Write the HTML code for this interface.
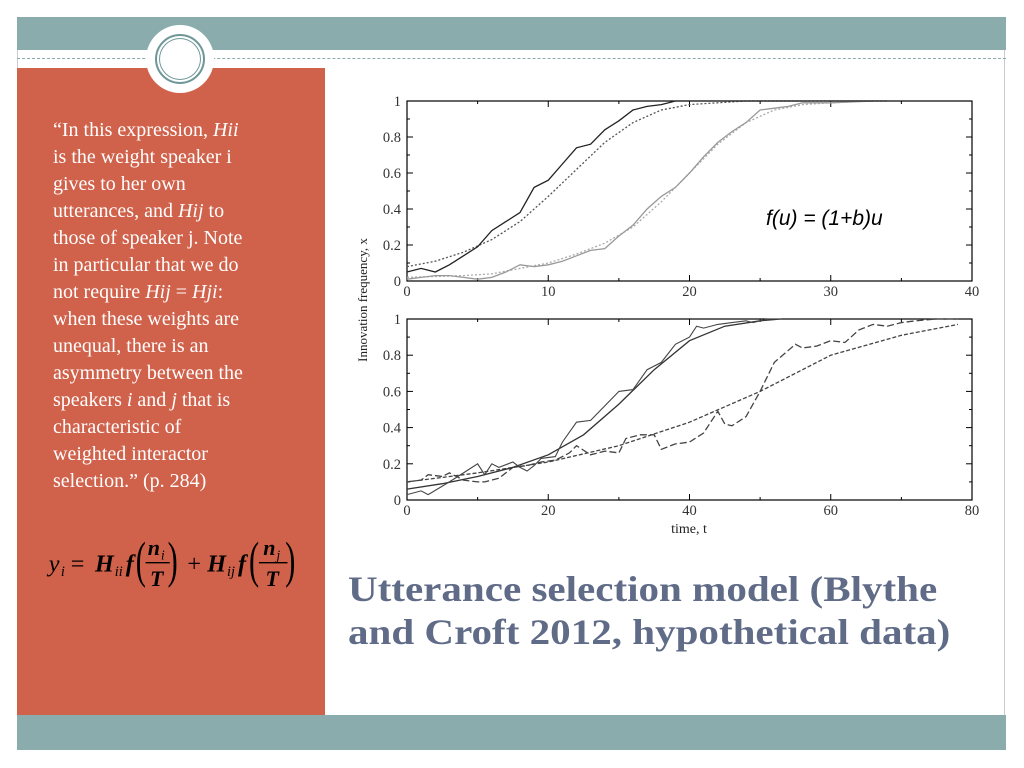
<!DOCTYPE html>
<html><head><meta charset="utf-8"><style>
body{margin:0;width:1024px;height:768px;background:#fff;position:relative;overflow:hidden;font-family:"Liberation Serif",serif}
.abs{position:absolute}
#quote{left:53px;top:117px;width:270px;font-size:20px;line-height:27px;color:#fff;white-space:nowrap}
#title{left:348px;top:568px;font-size:36px;font-weight:bold;color:#5f6b87;line-height:43px;white-space:nowrap;transform:scaleX(1.14);transform-origin:0 0}
</style></head><body>
<div class="abs" style="left:17px;top:17px;width:988px;height:733px;border:1px solid #ccc;box-sizing:border-box"></div>
<div class="abs" style="left:17px;top:17px;width:989px;height:33px;background:#8aacad"></div>
<div class="abs" style="left:17px;top:58px;width:989px;border-top:1px dashed #8aacad"></div>
<div class="abs" style="left:17px;top:68px;width:308px;height:647px;background:#d0614a"></div>
<div class="abs" style="left:17px;top:715px;width:989px;height:35px;background:#8aacad"></div>
<div class="abs" style="left:146px;top:25px;width:68px;height:68px;border-radius:50%;background:#fff"></div>
<div class="abs" style="left:155px;top:34px;width:46px;height:46px;border-radius:50%;border:2px solid #6f9798;box-shadow:inset 0 0 0 2px #fff,inset 0 0 0 3px #6f9798"></div>
<div id="quote" class="abs">“In this expression, <i>Hii</i><br>is the weight speaker i<br>gives to her own<br>utterances, and <i>Hij</i> to<br>those of speaker j. Note<br>in particular that we do<br>not require <i>Hij</i> = <i>Hji</i>:<br>when these weights are<br>unequal, there is an<br>asymmetry between the<br>speakers <i>i</i> and <i>j</i> that is<br>characteristic of<br>weighted interactor<br>selection.” (p. 284)</div>
<svg class="abs" style="left:40px;top:522px" width="285" height="75" font-family="Liberation Serif,serif" fill="#000">
<g transform="scale(1.1)">
<text x="8" y="45" font-size="22" font-style="italic">y</text><text x="19" y="49" font-size="13" font-style="italic">i</text>
<text x="28" y="45" font-size="22">=</text>
<text x="50" y="45" font-size="22" font-style="italic" font-weight="bold">H</text><text x="68" y="49" font-size="13" font-style="italic">ii</text>
<text x="78" y="45" font-size="22" font-style="italic" font-weight="bold">f</text>
<text x="87" y="50" font-size="46" transform="scale(0.6,1)" style="transform-origin:87px 0">(</text>
<text x="98" y="30" font-size="20" font-style="italic" font-weight="bold">n</text><text x="110" y="34" font-size="12" font-style="italic">i</text>
<line x1="96" y1="37" x2="118" y2="37" stroke="#000" stroke-width="1.2"/>
<text x="100" y="58" font-size="20" font-style="italic" font-weight="bold">T</text>
<text x="116" y="50" font-size="46" transform="scale(0.6,1)" style="transform-origin:116px 0">)</text>
<text x="134" y="45" font-size="22">+</text>
<text x="152" y="45" font-size="22" font-style="italic" font-weight="bold">H</text><text x="170" y="49" font-size="13" font-style="italic">ij</text>
<text x="180" y="45" font-size="22" font-style="italic" font-weight="bold">f</text>
<text x="190" y="50" font-size="46" transform="scale(0.6,1)" style="transform-origin:190px 0">(</text>
<text x="203" y="30" font-size="20" font-style="italic" font-weight="bold">n</text><text x="215" y="34" font-size="12" font-style="italic">j</text>
<line x1="199" y1="37" x2="225" y2="37" stroke="#000" stroke-width="1.2"/>
<text x="205" y="58" font-size="20" font-style="italic" font-weight="bold">T</text>
<text x="223" y="50" font-size="46" transform="scale(0.6,1)" style="transform-origin:223px 0">)</text>
</g>
</svg>
<div id="title" class="abs">Utterance selection model (Blythe<br>and Croft 2012, hypothetical data)</div>
<svg id="chart" class="abs" style="left:0;top:0" width="1024" height="768" font-family="Liberation Serif,serif"></svg>
<script>
// top panel data
const topBlackT=[0,1,2,3,4,5,6,7,8,9,10,11,12,13,14,15,16,17,18,19,20,25,30,34];
const topBlackX=[0.05,0.07,0.05,0.09,0.14,0.19,0.28,0.33,0.38,0.52,0.56,0.65,0.74,0.76,0.84,0.89,0.95,0.97,0.98,1,1,1,1,1];
const topBlackFitT=[0,2,4,6,8,10,12,14,16,18,20,22,24,34];
const topBlackFitX=[0.08,0.11,0.16,0.23,0.33,0.47,0.62,0.77,0.88,0.95,0.98,0.99,1,1];
const topGreyT=[0,1,2,3,4,5,6,7,8,9,10,11,12,13,14,15,16,17,18,19,20,21,22,23,24,25,26,27,28,30,33];
const topGreyX=[0.01,0.02,0.03,0.03,0.02,0.01,0.02,0.05,0.09,0.08,0.09,0.11,0.14,0.17,0.18,0.25,0.31,0.40,0.47,0.52,0.60,0.69,0.77,0.83,0.88,0.95,0.96,0.97,0.99,0.99,1];
const topGreyFitT=[0,4,6,8,10,12,14,16,18,20,22,24,26,28,30,33];
const topGreyFitX=[0.02,0.03,0.04,0.07,0.10,0.15,0.21,0.30,0.44,0.60,0.76,0.88,0.95,0.98,0.99,1];
const topXTicks=[0,10,20,30,40];
const yTicks=[0,0.2,0.4,0.6,0.8,1];
const yTickLabels=["0","0.2","0.4","0.6","0.8","1"];
// bottom panel data
const botSolidT=[0,2,3,6,8,10,11,12,13,15,16,17,18,19,21,22,24,26,28,30,32,34,36,38,40,41,42,44,46,48,49,51,53];
const botSolidX=[0.03,0.05,0.03,0.10,0.15,0.20,0.14,0.20,0.18,0.21,0.18,0.16,0.19,0.23,0.24,0.32,0.43,0.44,0.52,0.60,0.61,0.72,0.76,0.86,0.90,0.96,0.95,0.97,0.98,0.99,0.98,1,1];
const botSolidFitT=[0,5,10,15,20,25,30,35,40,45,50,53];
const botSolidFitX=[0.06,0.09,0.13,0.18,0.25,0.36,0.53,0.72,0.88,0.96,0.99,1];
const botDashT=[0,2,3,5,6,8,10,11,13,15,17,19,21,23,24,26,28,30,31,33,35,36,38,40,42,44,45,46,48,50,52,55,56,58,60,62,64,66,68,70,72,75,78];
const botDashX=[0.10,0.11,0.14,0.13,0.15,0.11,0.10,0.10,0.12,0.18,0.19,0.21,0.22,0.26,0.30,0.25,0.27,0.26,0.34,0.36,0.36,0.28,0.31,0.32,0.37,0.49,0.42,0.41,0.46,0.60,0.76,0.86,0.84,0.85,0.88,0.87,0.94,0.97,0.96,0.98,0.99,1,1];
const botDashFitT=[0,10,20,30,40,50,60,70,78];
const botDashFitX=[0.10,0.15,0.21,0.30,0.43,0.60,0.80,0.91,0.97];
const botXTicks=[0,20,40,60,80];

const svg=document.getElementById('chart');
const NS='http://www.w3.org/2000/svg';
function mk(tag,attrs,parent){const e=document.createElementNS(NS,tag);for(const k in attrs)e.setAttribute(k,attrs[k]);(parent||svg).appendChild(e);return e;}
function panel(name,top,bottom,xmax,xticks,series){
  const L=407,R=972;
  const sx=v=>L+(R-L)*v/xmax, sy=v=>bottom-(bottom-top)*v;
  const g=mk('g',{});
  
  
  const fr=mk('rect',{x:L,y:top,width:R-L,height:bottom-top,fill:'none',stroke:'#000','stroke-width':1.2},g);
  
  
  const minor=xmax/8;
  for(let v=0;v<=xmax+1e-9;v+=minor){const x=sx(v);const big=xticks.includes(v);const h=big?6:3;
    mk('line',{x1:x,y1:bottom,x2:x,y2:bottom-h,stroke:'#000'},g);mk('line',{x1:x,y1:top,x2:x,y2:top+h,stroke:'#000'},g);}
  xticks.forEach(v=>{const t=mk('text',{x:sx(v),y:bottom+15,'font-size':14.5,'text-anchor':'middle',fill:'#333'},g);t.textContent=v;
    
    });
  for(let v=0;v<=1.0001;v+=0.1){const y=sy(v);const big=Math.round(v*10)%2==0;const h=big?6:3;
    mk('line',{x1:L,y1:y,x2:L+h,y2:y,stroke:'#000'},g);mk('line',{x1:R,y1:y,x2:R-h,y2:y,stroke:'#000'},g);}
  yTicks.forEach((v,i)=>{const t=mk('text',{x:L-6,y:sy(v)+5,'font-size':14.5,'text-anchor':'end',fill:'#333'},g);t.textContent=yTickLabels[i];
    
    });
  series.forEach(s=>{const d=s.t.map((t,i)=>(i?'L':'M')+sx(t).toFixed(1)+','+sy(s.x[i]).toFixed(1)).join('');
    const p=mk('path',{d:d,fill:'none',stroke:s.c,'stroke-width':s.w||1.3,'stroke-dasharray':s.dash||'none'},g);
    
    });
}
panel('top-panel',101,281,40,topXTicks,[
 {t:topGreyFitT,x:topGreyFitX,c:'#aaa',dash:'2,2',n:'grey-fit-line'},
 {t:topBlackFitT,x:topBlackFitX,c:'#555',dash:'2,2',n:'black-fit-line'},
 {t:topGreyT,x:topGreyX,c:'#999',n:'grey-data-line'},
 {t:topBlackT,x:topBlackX,c:'#222',n:'black-data-line'}]);
panel('bottom-panel',319,500,80,botXTicks,[
 {t:botDashFitT,x:botDashFitX,c:'#444',dash:'4,2',n:'dashed-fit-line'},
 {t:botDashT,x:botDashX,c:'#444',dash:'7,3',n:'dashed-data-line'},
 {t:botSolidFitT,x:botSolidFitX,c:'#333',n:'solid-fit-line'},
 {t:botSolidT,x:botSolidX,c:'#444',w:1.1,n:'solid-data-line'}]);
const yl=mk('text',{x:0,y:0,'font-size':13,'text-anchor':'middle',fill:'#222',transform:'translate(367,300) rotate(-90)'});
yl.textContent='Innovation frequency, x';


const xl=mk('text',{x:689,y:533,'font-size':14,'text-anchor':'middle',fill:'#222'});
xl.textContent='time, t';


const an=mk('text',{x:766,y:225,'font-size':21,'font-style':'italic',fill:'#000','font-family':'Liberation Sans,sans-serif'});
an.textContent='f(u) = (1+b)u';


</script>
</body></html>
